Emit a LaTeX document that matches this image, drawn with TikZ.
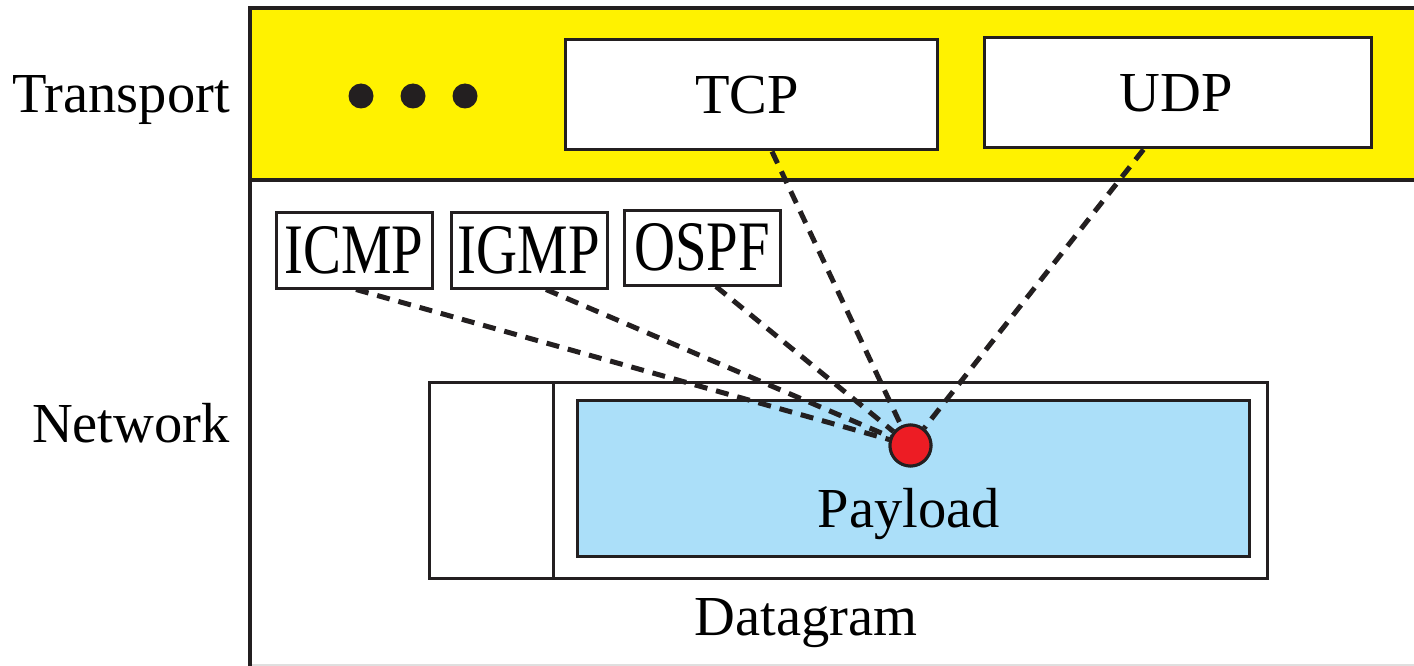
\documentclass[tikz,border=0pt]{standalone}
\usepackage{fontspec}
\usepackage{graphicx}
\setmainfont{Liberation Serif}
\definecolor{ink}{HTML}{231F20}
\definecolor{bandyellow}{HTML}{FFF200}
\definecolor{payblue}{HTML}{ABDFF9}
\definecolor{dotred}{HTML}{ED1C24}
\newcommand{\bigtext}{\fontsize{56.5}{60}\selectfont}
\newcommand{\boxtext}[1]{\fontsize{71}{76}\selectfont\scalebox{0.8}[1]{#1}}
\tikzset{
  frameline/.style={draw=ink, line width=3.5pt},
  proto/.style={draw=ink, line width=3pt, fill=white, inner sep=0pt, rectangle},
  link/.style={draw=ink, line width=5pt, dash pattern=on 13pt off 9pt},
  layerlabel/.style={anchor=base east, inner sep=0pt, font=\bigtext},
  caption/.style={anchor=base, inner sep=0pt, font=\bigtext},
  bullet/.style={circle, fill=ink, minimum size=25pt, inner sep=0pt},
  joint/.style={circle, draw=ink, line width=3pt, fill=dotred, minimum size=41pt, inner sep=0pt}
}
\begin{document}
\begin{tikzpicture}[x=1pt, y=-1pt]
  \useasboundingbox (0,0) rectangle (1414,666);

  % transport band and layer frame
  \fill[bandyellow] (250,8) rectangle (1416,180);
  \draw[draw=gray!25, line width=1.5pt] (250,665) -- (1416,665);
  \draw[frameline] (250,668) -- (250,8) -- (1416,8);
  \draw[frameline] (250,180) -- (1416,180);

  % layer names
  \node[layerlabel] (transport) at (230,113) {Transport};
  \node[layerlabel] (network) at (230,442) {Network};

  % transport protocols
  \node[bullet] (d1) at (361,96) {};
  \node[bullet] (d2) at (413,96) {};
  \node[bullet] (d3) at (465,96) {};
  \node[proto, minimum width=372pt, minimum height=110pt, font=\bigtext] (tcp) at (751,95) {\hspace*{-8pt}TCP};
  \node[proto, minimum width=387pt, minimum height=110pt, font=\bigtext] (udp) at (1177.5,93) {\hspace*{-2pt}UDP};

  % network-layer protocols
  \node[proto, minimum width=156pt, minimum height=76pt] (icmp) at (354,250) {\boxtext{ICMP}};
  \node[proto, minimum width=156pt, minimum height=76pt] (igmp) at (529,250) {\boxtext{IGMP}};
  \node[proto, minimum width=156pt, minimum height=75pt] (ospf) at (702,247.5) {\boxtext{OSPF}};

  % datagram with header and payload
  \node[proto, minimum width=838pt, minimum height=196pt] (datagram) at (848,480) {};
  \draw[draw=ink, line width=3pt] (553,382) -- (553,578);
  \node[proto, fill=payblue, minimum width=672pt, minimum height=156pt] (payload) at (913,478) {};
  \node[caption] (paylabel) at (909,527) {Payload};
  \node[caption] (dglabel) at (806,635) {Datagram};

  % demultiplexing point
  \node[joint] (dot) at (910.5,445.5) {};

  % links from protocols to the payload
  \draw[link] ([xshift=2pt]icmp.south) -- (dot);
  \draw[link] ([xshift=17pt]igmp.south) -- (dot);
  \draw[link] ([xshift=14pt]ospf.south) -- (dot);
  \draw[link] ([xshift=21pt]tcp.south) -- (dot);
  \draw[link] ([xshift=-34pt]udp.south) -- (dot);
  \node[joint] at (dot) {};
\end{tikzpicture}
\end{document}
